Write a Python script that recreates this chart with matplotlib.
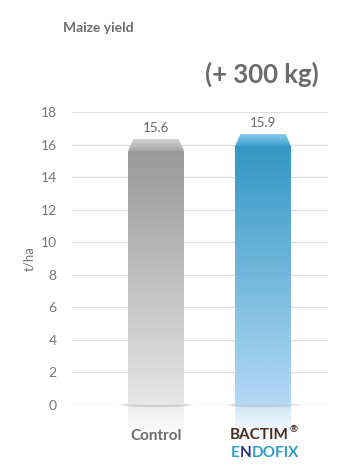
import numpy as np
import matplotlib.pyplot as plt
from matplotlib.patches import Polygon, Ellipse
from matplotlib.colors import LinearSegmentedColormap

plt.rcParams['font.family'] = ['Lato', 'DejaVu Sans']

categories = ["Control", "BACTIM® ENDOFIX"]
values = [15.6, 15.9]
value_labels = ["15.6", "15.9"]
yticks = [0, 2, 4, 6, 8, 10, 12, 14, 16, 18]

# gradient colours (top, bottom) and cap colours
grads = [("#999999", "#e6e6e6"), ("#3397c3", "#b3d9f5")]
caps = [("#d6d6d6", "#a6a6a6"), ("#8fd0f0", "#3da0cc")]

fig = plt.figure(figsize=(3.5, 4.67), dpi=100)
ax = fig.add_axes([0.206, 0.1328, 0.731, 0.6272])

w = 0.523
for i, v in enumerate(values):
    cmap = LinearSegmentedColormap.from_list("g", [grads[i][1], grads[i][0]])
    grad = np.linspace(0, 1, 256).reshape(-1, 1)
    ax.imshow(grad, extent=[i - w / 2, i + w / 2, 0, v], origin="lower",
              cmap=cmap, aspect="auto", zorder=3)
    # bevel cap on top
    ch = 0.75
    inset = 0.05
    capmap = LinearSegmentedColormap.from_list("c", [caps[i][1], caps[i][0]])
    im = ax.imshow(grad, extent=[i - w / 2, i + w / 2, v, v + ch], origin="lower",
                   cmap=capmap, aspect="auto", zorder=3)
    poly = Polygon([[i - w / 2, v], [i + w / 2, v], [i + w / 2 - inset, v + ch],
                    [i - w / 2 + inset, v + ch]], closed=True, fc="none", ec="none")
    ax.add_patch(poly)
    im.set_clip_path(poly)
    ax.text(i, v + ch + 0.3, value_labels[i], ha="center", va="bottom",
            fontsize=9.5, color="#666666")
    # reflection below the baseline
    refmap = LinearSegmentedColormap.from_list("r", ["#ffffff", grads[i][1]])
    ref = ax.imshow(grad, extent=[i - w / 2, i + w / 2, -2.2, 0], origin="lower",
                    cmap=refmap, aspect="auto", zorder=2, alpha=0.6)
    ref.set_clip_on(False)
    # soft shadow at the base
    for k, a in enumerate([0.06, 0.08, 0.1]):
        e = Ellipse((i, 0), w * (1.35 - 0.12 * k), 0.35 - 0.08 * k,
                    fc="#555555", ec="none", alpha=a, zorder=2.5, clip_on=False)
        ax.add_patch(e)

ax.set_xlim(-0.785, 1.607)
ax.set_ylim(0, 18)
ax.set_yticks(yticks)
ax.set_xticks([])
ax.grid(axis="y", color="#dddddd", lw=0.9, zorder=0)
ax.set_axisbelow(True)
for s in ax.spines.values():
    s.set_visible(False)
ax.tick_params(axis="y", length=0, pad=11, labelsize=10, labelcolor="#777777")
ax.set_ylabel("t/ha", fontsize=9.5, color="#777777", labelpad=4)

fig.text(63 / 350, 1 - 28 / 467, "Maize yield", fontsize=10, fontweight="bold",
         color="#6b6b6b", va="center")
fig.text(319 / 350, 1 - 74 / 467, "(+ 300 kg)", fontsize=18.5, fontweight="bold",
         color="#6b6b6b", va="center", ha="right")

# x labels
fig.text(156 / 350, 1 - 436 / 467, "Control", fontsize=11, fontweight="bold",
         color="#6d6d6d", ha="center", va="center")

fig.canvas.draw()
r = fig.canvas.get_renderer()
b = fig.text(230 / 350, 1 - 435 / 467, "BACTIM", fontsize=11, fontweight="bold",
             color="#4b2a1e", ha="left", va="center")
bx = 230 + b.get_window_extent(r).width + 1
fig.text(bx / 350, 1 - 430 / 467, "®", fontsize=7, fontweight="bold",
         color="#4b2a1e", ha="left", va="center")

# ENDOFIX with the N in navy, placed piece by piece
x = 231
for part, col in [("E", "#2e9acb"), ("N", "#2a2f7c"), ("DOFIX", "#2e9acb")]:
    t = fig.text(x / 350, 1 - 453 / 467, part, fontsize=11, fontweight="bold",
                 color=col, ha="left", va="center")
    x += t.get_window_extent(r).width

fig.savefig("out.png", dpi=100)
